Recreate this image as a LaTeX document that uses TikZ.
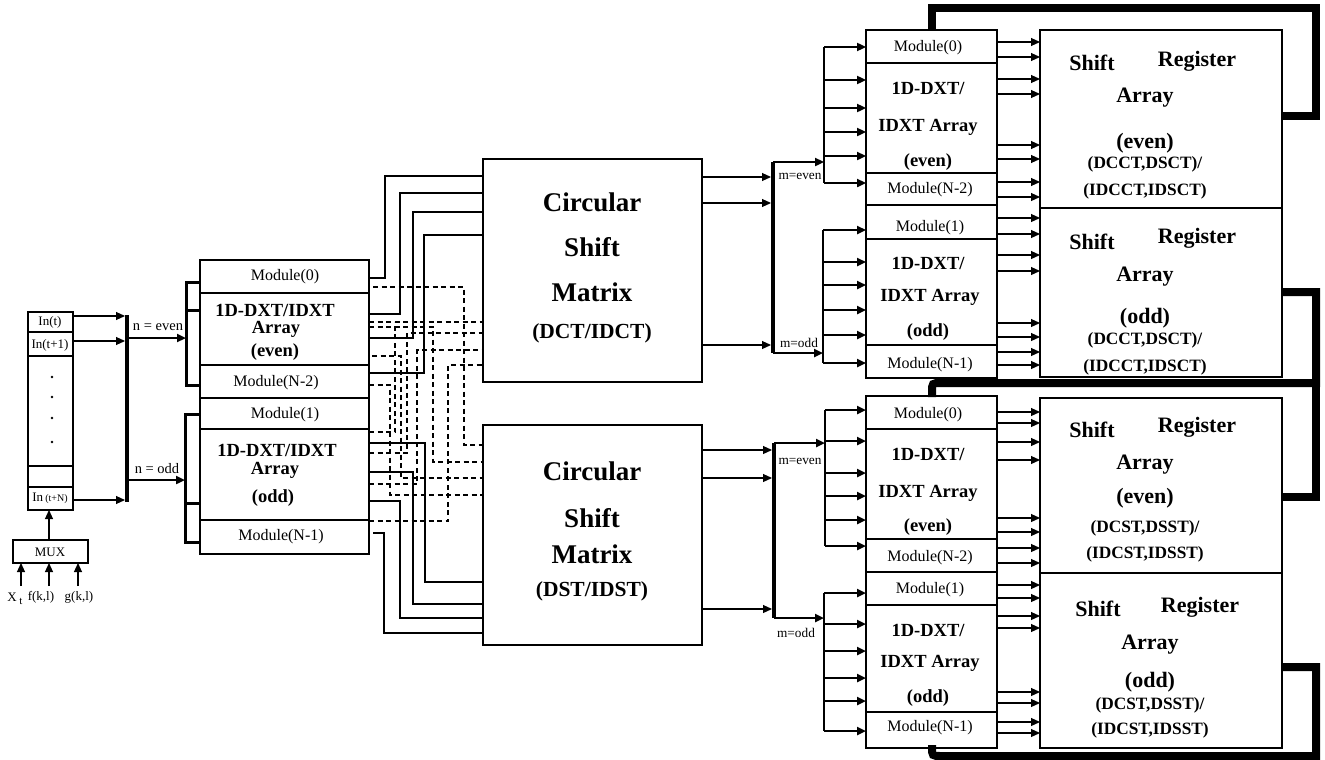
\documentclass[tikz,border=0pt]{standalone}
\usepackage{fontspec}
\setmainfont{Liberation Serif}
\usetikzlibrary{arrows.meta}
\begin{document}
\begin{tikzpicture}[x=1pt,y=-1pt,line join=miter,
 box/.style={draw,line width=1.1pt,inner sep=0pt,outer sep=0pt,anchor=north west},
 w/.style={line width=1.1pt},
 dw/.style={line width=1.1pt,dash pattern=on 5pt off 3.5pt},
 busl/.style={line width=3.5pt},
 subl/.style={line width=2.6pt},
 fbl/.style={line width=8pt},
 ar/.style={-{Triangle[length=9pt,width=8pt]}},
 tm/.style={font=\fontsize{16}{16}\selectfont},
 ts/.style={font=\fontsize{13}{13}\selectfont},
 tb/.style={font=\fontsize{18.5}{18.5}\selectfont\bfseries},
 tc/.style={font=\fontsize{27}{27}\selectfont\bfseries},
 tcs/.style={font=\fontsize{21.5}{21.5}\selectfont\bfseries},
 tr/.style={font=\fontsize{22}{22}\selectfont\bfseries},
 trs/.style={font=\fontsize{17.3}{17.3}\selectfont\bfseries},
 tmm/.style={font=\fontsize{13.3}{13.3}\selectfont}]
\useasboundingbox (0,0) rectangle (1325,760);

% ---------------- input column ----------------
\node[box,minimum width=45pt,minimum height=198pt] (inbox) at (28,312) {};
\foreach \yy in {332,356,466,487} \draw[w] (28,\yy) -- (73,\yy);
\node[ts] (i0) at (50,322) {In(t)};
\node[ts] (i1) at (50,345) {In(t+1)};
\node[ts] (iN) at (50,498) {In\,{\fontsize{10}{10}\selectfont(t+N)}};
\foreach \yy in {377,397,418,442} \fill (52,\yy) circle (1.3pt);
\node[box,minimum width=75pt,minimum height=23pt] (mux) at (13,540) {};
\node[ts] (muxt) at (50,552) {MUX};
\draw[w,ar] (49,540) -- (49,510);
\foreach \xx in {21,49,78} \draw[w,ar] (\xx,586) -- (\xx,563);
\node[ts] (xt) at (12,597) {X};
\node[font=\fontsize{11}{11}\selectfont] (xts) at (21,601) {t};
\node[ts] (fkl) at (41,597) {f(k,l)};
\node[ts] (gkl) at (79,597) {g(k,l)};
\coordinate (bar0t) at (127,315);
\coordinate (bar0b) at (127,502);
\draw[busl] (bar0t) -- (bar0b);
\foreach \yy in {316,341,500} \draw[w,ar] (73,\yy) -- (125,\yy);
\draw[line width=2.8pt,ar] (128,338) -- (186,338);
\draw[line width=2.8pt,ar] (128,480) -- (185,480);
\node[font=\fontsize{14.5}{14.5}\selectfont] (ne) at (158,327) {n = even};
\node[font=\fontsize{14.5}{14.5}\selectfont] (no) at (157,469) {n = odd};
% brackets
\draw[line width=3pt] (200,282) -- (186,282) -- (186,385) -- (200,385);
\draw[line width=3pt] (186,310) -- (200,310);
\draw[line width=3pt] (200,414) -- (185,414) -- (185,542) -- (200,542);
\draw[line width=3pt] (185,503) -- (200,503);

% ---------------- left module block ----------------
\node[box,minimum width=169pt,minimum height=294pt] (lb) at (200,260) {};
\foreach \yy in {293,365,429,520} \draw[w] (200,\yy) -- (369,\yy);
\draw[line width=2.5pt] (200,398) -- (369,398);
\node[tm] at (285,277) {Module(0)};
\node[tb] at (275,310) {1D-DXT/IDXT};
\node[tb] at (276,329) {Array};
\node[tb] at (275,352) {(even)};
\node[tm] at (276,383) {Module(N-2)};
\node[tm] at (285,415) {Module(1)};
\node[tb] at (277,450) {1D-DXT/IDXT};
\node[tb] at (275,470) {Array};
\node[tb] at (273,498) {(odd)};
\node[tm] at (281,537) {Module(N-1)};

% ---------------- circular shift matrices ----------------
\node[box,minimum width=219pt,minimum height=223pt] (dct) at (483,159) {};
\node[tc] at (592,202) {Circular};
\node[tc] at (592,247) {Shift};
\node[tc] at (592,292) {Matrix};
\node[tcs] at (592,333) {(DCT/IDCT)};
\node[box,minimum width=219pt,minimum height=220pt] (dst) at (483,425) {};
\node[tc] at (592,471) {Circular};
\node[tc] at (592,518) {Shift};
\node[tc] at (592,554) {Matrix};
\node[tcs] at (592,591) {(DST/IDST)};

% solid wires
\draw[w] (369,278) -- (385,278) -- (385,176) -- (483,176);
\draw[w] (369,314) -- (400,314) -- (400,193) -- (483,193);
\draw[w] (369,338) -- (413,338) -- (413,212) -- (483,212);
\draw[w] (369,373) -- (424,373) -- (424,235) -- (483,235);
\draw[w] (369,443) -- (425,443) -- (425,582) -- (483,582);
\draw[w] (369,472) -- (413,472) -- (413,604) -- (483,604);
\draw[w] (369,501) -- (400,501) -- (400,618) -- (483,618);
\draw[w] (373,533) -- (384,533) -- (384,633) -- (483,633);
% dashed wires
\draw[dw] (373,287) -- (464,287) -- (464,445) -- (483,445);
\draw[dw] (369,327) -- (433,327) -- (433,462) -- (483,462);
\draw[dw] (372,356) -- (401,356) -- (401,478) -- (483,478);
\draw[dw] (369,385) -- (390,385) -- (390,495) -- (483,495);
\draw[dw] (369,432) -- (395,432) -- (395,322);
\draw[dw] (369,322) -- (483,322);
\draw[dw] (369,453) -- (407,453) -- (407,333) -- (483,333);
\draw[dw] (369,484) -- (417,484) -- (417,350) -- (483,350);
\draw[dw] (369,521) -- (448,521) -- (448,365) -- (483,365);

% ---------------- right, top group ----------------
\draw[busl] (773,162) -- (773,353);
\foreach \yy in {177,203,345} \draw[w,ar] (702,\yy) -- (771,\yy);
\draw[subl,ar] (773,162) -- (824,162);
\draw[subl] (824,47) -- (824,183);
\foreach \yy in {47,80,108,132,156,183} \draw[subl,ar] (824,\yy) -- (866,\yy);
\node[tmm] at (800,176) {m=even};
\draw[subl,ar] (773,353) -- (823,353);
\draw[subl] (823,230) -- (823,363);
\foreach \yy in {230,262,285,310,335,363} \draw[subl,ar] (823,\yy) -- (866,\yy);
\node[tmm] at (799,343) {m=odd};

\node[box,minimum width=131pt,minimum height=348pt] (rt) at (866,30) {};
\foreach \yy in {63,173,239,345} \draw[w] (866,\yy) -- (997,\yy);
\draw[line width=2.5pt] (866,205) -- (997,205);
\node[tm] at (928,48) {Module(0)};
\node[tb] at (928,88) {1D-DXT/};
\node[tb] at (928,127) {IDXT Array};
\node[tb] at (928,162) {(even)};
\node[tm] at (930,190) {Module(N-2)};
\node[tm] at (930,228) {Module(1)};
\node[tb] at (928,263) {1D-DXT/};
\node[tb] at (930,297) {IDXT Array};
\node[tb] at (928,332) {(odd)};
\node[tm] at (930,365) {Module(N-1)};

\node[box,minimum width=242pt,minimum height=347pt] (srt) at (1040,30) {};
\draw[line width=2.5pt] (1040,208) -- (1282,208);
\node[tr] at (1092,63) {Shift};
\node[tr] at (1197,61) {Register};
\node[tr] at (1145,98) {Array};
\node[tr] at (1145,143) {(even)};
\node[trs] at (1145,164) {(DCCT,DSCT)/};
\node[trs] at (1145,191) {(IDCCT,IDSCT)};
\node[tr] at (1092,242) {Shift};
\node[tr] at (1197,238) {Register};
\node[tr] at (1145,277) {Array};
\node[tr] at (1145,318) {(odd)};
\node[trs] at (1145,340) {(DCCT,DSCT)/};
\node[trs] at (1145,367) {(IDCCT,IDSCT)};
\foreach \yy in {42,57,79,94,145,159,182,197,218,234,255,271,323,337,352,365}
  \draw[w,ar] (997,\yy) -- (1040,\yy);

% ---------------- right, bottom group ----------------
\draw[busl] (774,443) -- (774,618);
\foreach \yy in {450,478,609} \draw[w,ar] (702,\yy) -- (772,\yy);
\draw[subl,ar] (774,443) -- (825,443);
\draw[subl] (825,410) -- (825,546);
\foreach \yy in {410,441,473,496,520,546} \draw[subl,ar] (825,\yy) -- (866,\yy);
\node[tmm] at (800,461) {m=even};
\draw[subl,ar] (774,618) -- (824,618);
\draw[subl] (824,593) -- (824,731);
\foreach \yy in {593,624,651,678,701,731} \draw[subl,ar] (824,\yy) -- (866,\yy);
\node[tmm] at (796,633) {m=odd};

\node[box,minimum width=131pt,minimum height=352pt] (rb) at (866,396) {};
\foreach \yy in {429,539,605,712} \draw[w] (866,\yy) -- (997,\yy);
\draw[line width=2.5pt] (866,572) -- (997,572);
\node[tm] at (928,415) {Module(0)};
\node[tb] at (928,454) {1D-DXT/};
\node[tb] at (928,493) {IDXT Array};
\node[tb] at (928,527) {(even)};
\node[tm] at (930,558) {Module(N-2)};
\node[tm] at (930,590) {Module(1)};
\node[tb] at (928,630) {1D-DXT/};
\node[tb] at (930,663) {IDXT Array};
\node[tb] at (928,698) {(odd)};
\node[tm] at (930,728) {Module(N-1)};

\node[box,minimum width=242pt,minimum height=350pt] (srb) at (1040,398) {};
\draw[line width=2.5pt] (1040,573) -- (1282,573);
\node[tr] at (1092,430) {Shift};
\node[tr] at (1197,427) {Register};
\node[tr] at (1145,465) {Array};
\node[tr] at (1145,498) {(even)};
\node[trs] at (1145,528) {(DCST,DSST)/};
\node[trs] at (1145,554) {(IDCST,IDSST)};
\node[tr] at (1098,609) {Shift};
\node[tr] at (1200,607) {Register};
\node[tr] at (1150,645) {Array};
\node[tr] at (1150,682) {(odd)};
\node[trs] at (1150,705) {(DCST,DSST)/};
\node[trs] at (1150,730) {(IDCST,IDSST)};
\foreach \yy in {412,423,442,460,518,532,548,563,585,598,616,628,692,703,722,733}
  \draw[w,ar] (997,\yy) -- (1040,\yy);

% ---------------- feedback lines ----------------
\draw[fbl] (932,30) -- (932,8) -- (1316,8) -- (1316,116) -- (1282,116);
\draw[fbl] (1282,292) -- (1316,292) -- (1316,383) -- (941,383) .. controls (932,383) .. (932,392) -- (932,397);
\draw[fbl] (1316,380) -- (1316,497) -- (1282,497);
\draw[fbl] (1282,667) -- (1316,667) -- (1316,756) -- (941,756) .. controls (932,756) .. (932,747) -- (932,745);
\end{tikzpicture}
\end{document}
